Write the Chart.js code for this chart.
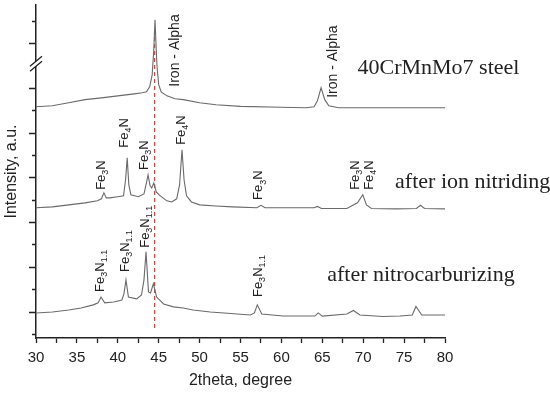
<!DOCTYPE html>
<html>
<head>
<meta charset="utf-8">
<script src="https://cdn.jsdelivr.net/npm/chart.js@4.4.0/dist/chart.umd.min.js"></script>
<style>
  html, body { margin: 0; padding: 0; background: #fff; }
</style>
</head>
<body>
<canvas id="xrd" width="550" height="395"></canvas>
<script>
// 2theta positions and offset intensities (a.u., one tick = 1)
const steelX = [30, 32, 34, 36, 38, 40, 42, 43, 43.5, 43.9, 44.2, 44.4, 44.55, 44.7, 44.8, 45, 45.3, 46, 47, 48, 50, 52, 55, 60, 63, 64, 64.4, 64.85, 65.3, 65.8, 67, 70, 75, 80];
const steelY = [10.15, 10.2, 10.33, 10.47, 10.55, 10.64, 10.73, 10.78, 10.82, 11.05, 11.58, 12.7, 14.04, 12.7, 11.94, 11.14, 10.82, 10.64, 10.51, 10.47, 10.33, 10.24, 10.17, 10.13, 10.11, 10.15, 10.42, 11.0, 10.47, 10.2, 10.11, 10.11, 10.11, 10.11];

const ionX = [30, 32, 34, 36, 37.5, 38, 38.3, 38.6, 39, 40, 40.7, 40.95, 41.15, 41.35, 41.6, 42.5, 43.2, 43.5, 43.7, 43.95, 44.15, 44.4, 44.7, 45.2, 46, 46.6, 47.2, 47.55, 47.85, 48.1, 48.4, 49, 50, 52, 54, 57, 57.5, 58, 61, 64, 64.4, 64.9, 68, 69.3, 69.95, 70.4, 71, 74, 76.5, 77, 77.5, 80];
const ionY = [5.64, 5.68, 5.77, 5.86, 5.95, 6.04, 6.31, 6.08, 6.08, 6.13, 6.17, 6.89, 7.87, 6.66, 6.22, 6.13, 6.26, 6.75, 7.11, 6.62, 6.53, 6.75, 6.35, 6.17, 5.95, 5.9, 6.04, 6.66, 8.23, 6.89, 6.17, 5.9, 5.77, 5.72, 5.68, 5.64, 5.75, 5.64, 5.64, 5.64, 5.7, 5.61, 5.61, 5.86, 6.22, 5.77, 5.61, 5.59, 5.61, 5.75, 5.61, 5.59];

const nitroX = [30, 32, 34, 35.5, 37, 37.6, 37.95, 38.4, 39.5, 40.5, 40.75, 41, 41.3, 42.3, 42.9, 43.2, 43.45, 43.75, 44, 44.35, 44.75, 45.6, 46.8, 48, 49.2, 51.3, 53, 56.2, 56.7, 57.05, 57.6, 60.2, 64.1, 64.5, 65, 68, 68.8, 69.6, 72.4, 74.5, 76, 76.45, 77.15, 80];
const nitroY = [0.94, 0.98, 1.07, 1.16, 1.3, 1.39, 1.65, 1.39, 1.43, 1.52, 1.79, 2.42, 1.65, 1.57, 1.74, 2.42, 3.67, 1.88, 1.83, 2.24, 1.65, 1.34, 1.21, 1.16, 1.07, 0.98, 0.94, 0.85, 0.94, 1.3, 0.89, 0.8, 0.8, 0.94, 0.8, 0.89, 1.05, 0.85, 0.78, 0.8, 0.85, 1.23, 0.85, 0.85];

// Iron alpha reference line
const refX = [44.5, 44.5];
const refY = [0.27, 13.6];

const xTicks = [30, 35, 40, 45, 50, 55, 60, 65, 70, 75, 80];

// peak annotations: text ({..} = subscript), 2theta, intensity at text start
const peakText = ['Iron - Alpha', 'Iron - Alpha',
  'Fe{3}N', 'Fe{4}N', 'Fe{3}N', 'Fe{4}N', 'Fe{3}N', 'Fe{3}N', 'Fe{4}N',
  'Fe{3}N{1.1}', 'Fe{3}N{1.1}', 'Fe{3}N{1.1}', 'Fe{3}N{1.1}'];
const peakX = [47.0, 66.35, 38.05, 40.75, 43.3, 47.8, 57.25, 69.1, 70.7, 37.9, 40.95, 43.4, 57.2];
const peakY = [11.05, 10.55, 6.44, 8.32, 7.33, 8.45, 5.99, 6.44, 6.44, 1.88, 2.77, 3.85, 1.65];

const sampleText = ['40CrMnMo7 steel', 'after ion nitriding', 'after nitrocarburizing'];
const sampleX = [69.3, 73.9, 65.6];
const sampleY = [11.63, 6.53, 2.35];

const breakAt = 12.12;

const zip = (xs, ys) => xs.map((x, i) => ({ x, y: ys[i] }));

const SANS = 'Arial, "Liberation Sans", sans-serif';
const SERIF = '"Times New Roman", "Liberation Serif", serif';

function drawRotated(ctx, x, y, str, size) {
    ctx.save();
    ctx.translate(x, y);
    ctx.rotate(-Math.PI / 2);
    ctx.textAlign = 'left';
    ctx.textBaseline = 'middle';
    let cx = 0;
    str.split(/(\{[^}]*\})/).forEach(part => {
        if (!part) return;
        if (part[0] === '{') {
            const t = part.slice(1, -1);
            ctx.font = `${Math.round(size * 0.72)}px ${SANS}`;
            ctx.fillText(t, cx, size * 0.32);
            cx += ctx.measureText(t).width;
        } else {
            ctx.font = `${size}px ${SANS}`;
            ctx.fillText(part, cx, 0);
            cx += ctx.measureText(part).width;
        }
    });
    ctx.restore();
}

const annotations = {
    id: 'annotations',
    afterDraw(chart) {
        const { ctx, scales: { x, y } } = chart;
        ctx.save();

        // y tick marks, alternating long / short
        ctx.strokeStyle = '#222';
        ctx.lineWidth = 1.3;
        ctx.beginPath();
        y.ticks.forEach(t => {
            const py = Math.round(y.getPixelForValue(t.value)) + 0.5;
            const len = t.value % 2 === 1 ? 7 : 4;
            ctx.moveTo(x.left, py);
            ctx.lineTo(x.left - len, py);
        });
        ctx.stroke();

        ctx.fillStyle = '#222';
        peakText.forEach((t, i) => {
            const size = t.startsWith('Iron') ? 14 : 13;
            drawRotated(ctx, x.getPixelForValue(peakX[i]), y.getPixelForValue(peakY[i]), t, size);
        });

        ctx.font = `22px ${SERIF}`;
        ctx.textAlign = 'left';
        ctx.textBaseline = 'alphabetic';
        sampleText.forEach((t, i) => {
            ctx.fillText(t, x.getPixelForValue(sampleX[i]), y.getPixelForValue(sampleY[i]));
        });

        // axis break mark
        const bx = x.left;
        const by = y.getPixelForValue(breakAt);
        ctx.fillStyle = '#fff';
        ctx.beginPath();
        ctx.moveTo(bx - 6, by + 3.5);
        ctx.lineTo(bx + 6, by - 6.5);
        ctx.lineTo(bx + 6, by - 1.5);
        ctx.lineTo(bx - 6, by + 8.5);
        ctx.closePath();
        ctx.fill();
        ctx.strokeStyle = '#222';
        ctx.lineWidth = 1.3;
        ctx.beginPath();
        ctx.moveTo(bx - 6, by + 3.5);
        ctx.lineTo(bx + 6, by - 6.5);
        ctx.moveTo(bx - 6, by + 8.5);
        ctx.lineTo(bx + 6, by - 1.5);
        ctx.stroke();
        ctx.restore();
    }
};

const traceStyle = {
    borderColor: '#6a6a6a',
    borderWidth: 1.1,
    pointRadius: 0,
    tension: 0,
    fill: false
};

new Chart(document.getElementById('xrd'), {
    type: 'line',
    data: {
        datasets: [
            { label: '40CrMnMo7 steel', data: zip(steelX, steelY), ...traceStyle },
            { label: 'after ion nitriding', data: zip(ionX, ionY), ...traceStyle },
            { label: 'after nitrocarburizing', data: zip(nitroX, nitroY), ...traceStyle },
            {
                label: 'Iron - Alpha',
                data: zip(refX, refY),
                borderColor: '#e2403c',
                borderWidth: 1.3,
                borderDash: [4, 3],
                pointRadius: 0
            }
        ]
    },
    options: {
        responsive: false,
        animation: false,
        devicePixelRatio: 1,
        layout: { padding: { top: 5, right: 105, left: 0, bottom: 0 } },
        plugins: {
            legend: { display: false },
            tooltip: { enabled: false }
        },
        scales: {
            x: {
                type: 'linear',
                min: 30,
                max: 80,
                afterFit: s => { s.height = 57; },
                afterBuildTicks: s => {
                    const t = [];
                    for (let i = 0; i < xTicks.length; i++) {
                        t.push({ value: xTicks[i] });
                        if (i < xTicks.length - 1) t.push({ value: (xTicks[i] + xTicks[i + 1]) / 2 });
                    }
                    s.ticks = t;
                },
                ticks: {
                    autoSkip: false,
                    maxRotation: 0,
                    padding: 6,
                    color: '#222',
                    font: { family: SANS, size: 15 },
                    callback: v => (xTicks.includes(v) ? v : '')
                },
                grid: { drawOnChartArea: false, tickLength: 5, tickColor: '#222', tickWidth: 1.3 },
                border: { color: '#222', width: 1.5 },
                title: {
                    display: true,
                    text: '2theta, degree',
                    color: '#222',
                    font: { family: SANS, size: 16 },
                    padding: { top: 0, bottom: 5 }
                }
            },
            y: {
                type: 'linear',
                min: -0.18,
                max: 14.7,
                afterFit: s => { s.width = 36; },
                ticks: { display: false, stepSize: 1, includeBounds: false },
                grid: { drawOnChartArea: false, drawTicks: false },
                border: { color: '#222', width: 1.5 },
                title: {
                    display: true,
                    text: 'Intensity, a.u.',
                    color: '#222',
                    font: { family: SANS, size: 16 },
                    padding: { top: 2, bottom: 0 }
                }
            }
        }
    },
    plugins: [annotations]
});
</script>
</body>
</html>
